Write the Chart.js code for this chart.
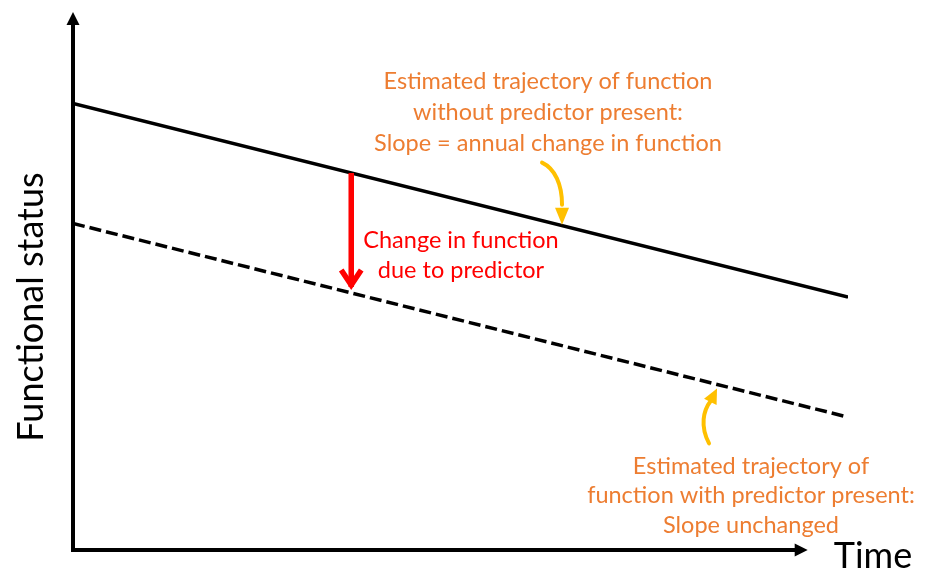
<!DOCTYPE html>
<html><head><meta charset="utf-8">
<script src="https://cdn.jsdelivr.net/npm/chart.js@4/dist/chart.umd.min.js"></script>
<style>html,body{margin:0;padding:0;background:#fff}#wrap{width:925px;height:571px;position:relative}</style>
</head><body><div id="wrap"><canvas id="c"></canvas></div>
<script>
// ---- data ----
const timePoints = [0, 10];
const withoutPredictor = [83, 47];
const withPredictor = [60.7, 24.7];
const effectTime = 3.59;          // where the red arrow shows the predictor effect
const upperPointerTime = 6.31;    // where the top yellow pointer touches the solid line
const lowerPointerTime = 8.31;    // where the bottom yellow pointer touches the dashed line
const xAxisEndTime = 9.48;
const axisTitles = {x: 'Time', y: 'Functional status'};
const upperNote = ['Estimated trajectory of function', 'without predictor present:', 'Slope = annual change in function'];
const lowerNote = ['Estimated trajectory of', 'function with predictor present:', 'Slope unchanged'];
const effectNote = ['Change in function', 'due to predictor'];

const FONT = 'Lato, "Open Sans", sans-serif';
const ORANGE = '#ED7D31', GOLD = '#FFC000', RED = '#FF0000';

function lineAt(series, t) {
  const slope = (series[1] - series[0]) / (timePoints[1] - timePoints[0]);
  return series[0] + slope * (t - timePoints[0]);
}

function arrowHead(ctx, tipX, tipY, fromX, fromY, len, half, color) {
  const dx = tipX - fromX, dy = tipY - fromY, L = Math.hypot(dx, dy);
  const ux = dx / L, uy = dy / L, px = -uy, py = ux;
  const bx = tipX - ux * len, by = tipY - uy * len;
  ctx.fillStyle = color;
  ctx.beginPath();
  ctx.moveTo(tipX, tipY);
  ctx.lineTo(bx + px * half, by + py * half);
  ctx.lineTo(bx - px * half, by - py * half);
  ctx.closePath();
  ctx.fill();
}

const overlay = {
  id: 'overlay',
  afterDatasetsDraw(chart) {
    const ctx = chart.ctx, xs = chart.scales.x, ys = chart.scales.y;
    const x0 = xs.getPixelForValue(0), y0 = ys.getPixelForValue(0);
    const xEnd = xs.getPixelForValue(xAxisEndTime), yTop = ys.getPixelForValue(100);
    ctx.save();
    // axes
    ctx.strokeStyle = '#000'; ctx.lineWidth = 4; ctx.lineCap = 'butt';
    ctx.beginPath(); ctx.moveTo(x0, y0 + 2); ctx.lineTo(x0, yTop + 10); ctx.stroke();
    ctx.beginPath(); ctx.moveTo(x0 - 2, y0); ctx.lineTo(xEnd - 10, y0); ctx.stroke();
    arrowHead(ctx, x0, yTop, x0, yTop + 20, 13, 6.5, '#000');
    arrowHead(ctx, xEnd, y0, xEnd - 20, y0, 13, 6.5, '#000');

    // red effect arrow
    const ex = xs.getPixelForValue(effectTime);
    const eTop = ys.getPixelForValue(lineAt(withoutPredictor, effectTime));
    const eBot = ys.getPixelForValue(lineAt(withPredictor, effectTime)) - 3;
    ctx.strokeStyle = RED; ctx.lineWidth = 5.5; ctx.lineCap = 'butt'; ctx.lineJoin = 'miter';
    ctx.beginPath(); ctx.moveTo(ex, eTop); ctx.lineTo(ex, eBot - 3); ctx.stroke();
    ctx.beginPath(); ctx.moveTo(ex - 10, eBot - 20); ctx.lineTo(ex, eBot - 5); ctx.lineTo(ex + 10, eBot - 20); ctx.stroke();

    // gold pointers
    ctx.strokeStyle = GOLD; ctx.lineWidth = 4; ctx.lineCap = 'round';
    const ux = xs.getPixelForValue(upperPointerTime), uy = ys.getPixelForValue(lineAt(withoutPredictor, upperPointerTime)) - 1;
    ctx.beginPath();
    ctx.moveTo(ux - 20, uy - 62);
    ctx.bezierCurveTo(ux - 7, uy - 56, ux, uy - 40, ux, uy - 20);
    ctx.stroke();
    arrowHead(ctx, ux, uy, ux, uy - 20, 17, 7, GOLD);

    const lx = xs.getPixelForValue(lowerPointerTime), ly = ys.getPixelForValue(lineAt(withPredictor, lowerPointerTime)) + 4;
    ctx.beginPath();
    ctx.moveTo(lx - 8, ly + 55);
    ctx.bezierCurveTo(lx - 17, ly + 38, lx - 14, ly + 22, lx - 6, ly + 12);
    ctx.stroke();
    arrowHead(ctx, lx, ly, lx - 7, ly + 14, 15, 7, GOLD);

    // texts
    ctx.textAlign = 'center'; ctx.textBaseline = 'middle';
    ctx.fillStyle = ORANGE; ctx.font = '23.5px ' + FONT;
    upperNote.forEach((s, i) => ctx.fillText(s, 548, 81 + i * 31));
    lowerNote.forEach((s, i) => ctx.fillText(s, 751, 466 + i * 29.5));
    ctx.fillStyle = RED;
    effectNote.forEach((s, i) => ctx.fillText(s, 461, 240 + i * 30));
    ctx.fillStyle = '#000'; ctx.font = '36px ' + FONT;
    ctx.fillText(axisTitles.x, 873, 556);
    ctx.save(); ctx.translate(31, 307); ctx.rotate(-Math.PI / 2);
    ctx.fillText(axisTitles.y, 0, 0); ctx.restore();
    ctx.restore();
  }
};

new Chart(document.getElementById('c'), {
  type: 'line',
  data: {
    datasets: [
      {label: 'Without predictor', data: timePoints.map((t, i) => ({x: t, y: withoutPredictor[i]})),
       borderColor: '#000', borderWidth: 3.5, pointRadius: 0, tension: 0},
      {label: 'With predictor', data: timePoints.map((t, i) => ({x: t, y: withPredictor[i]})),
       borderColor: '#000', borderWidth: 3.5, borderDash: [12, 5], pointRadius: 0, tension: 0}
    ]
  },
  options: {
    responsive: true, maintainAspectRatio: false, animation: false,
    layout: {padding: {left: 73, top: 12, right: 77, bottom: 21}},
    plugins: {legend: {display: false}, tooltip: {enabled: false}},
    scales: {
      x: {type: 'linear', min: 0, max: 10, display: false},
      y: {type: 'linear', min: 0, max: 100, display: false}
    }
  },
  plugins: [overlay]
});
</script></body></html>
